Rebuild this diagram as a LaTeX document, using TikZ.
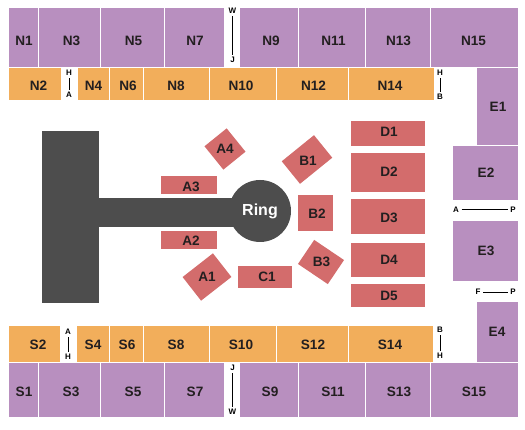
\documentclass[tikz,border=0pt]{standalone}
\usepackage{fontspec}
\setmainfont{Liberation Sans}
\usepackage{xcolor}
\usetikzlibrary{positioning}
\definecolor{upperPurple}{HTML}{B88FBF}
\definecolor{lowerOrange}{HTML}{F2AE5B}
\definecolor{floorRed}{HTML}{D36C6C}
\definecolor{stageGrey}{HTML}{4D4D4D}
\definecolor{labelInk}{HTML}{231F20}

\begin{document}
\begin{tikzpicture}[
  x=1pt, y=-1pt,
  sec/.style={inner sep=0pt, outer sep=0pt},
  upper/.style={sec, fill=upperPurple},
  lower/.style={sec, fill=lowerOrange},
  seat/.style={sec, fill=floorRed},
  stage/.style={sec, fill=stageGrey},
  lbl/.style={inner sep=0pt, text=labelInk, font=\fontsize{13.6}{13.6}\selectfont\bfseries},
  tag/.style={inner sep=2.5pt, text=black, font=\fontsize{8}{8}\selectfont\bfseries},
  aisle/.style={black, line width=0.7pt}
]
\useasboundingbox (0,0) rectangle (525,430);

% north upper row
\node[upper, minimum width=29, minimum height=59] (N1) at (23.5,37.5) {};
\node[upper, minimum width=61, minimum height=59] (N3) at (69.5,37.5) {};
\node[upper, minimum width=63, minimum height=59] (N5) at (132.5,37.5) {};
\node[upper, minimum width=59, minimum height=59] (N7) at (194.5,37.5) {};
\node[upper, minimum width=58, minimum height=59] (N9) at (269,37.5) {};
\node[upper, minimum width=66, minimum height=59] (N11) at (332,37.5) {};
\node[upper, minimum width=64, minimum height=59] (N13) at (398,37.5) {};
\node[upper, minimum width=87, minimum height=59] (N15) at (474.5,37.5) {};
\node[lbl] at (24,41) {N1};
\node[lbl] at (71.5,41) {N3};
\node[lbl] at (133.5,41) {N5};
\node[lbl] at (195,41) {N7};
\node[lbl] at (271,41) {N9};
\node[lbl] at (333.5,41) {N11};
\node[lbl] at (398.5,41) {N13};
\node[lbl] at (473.5,41) {N15};

% north lower row
\node[lower, minimum width=52, minimum height=32] (N2) at (35,84) {};
\node[lower, minimum width=31, minimum height=32] (N4) at (93.5,84) {};
\node[lower, minimum width=33, minimum height=32] (N6) at (126.5,84) {};
\node[lower, minimum width=65, minimum height=32] (N8) at (176.5,84) {};
\node[lower, minimum width=66, minimum height=32] (N10) at (243,84) {};
\node[lower, minimum width=71, minimum height=32] (N12) at (312.5,84) {};
\node[lower, minimum width=85, minimum height=32] (N14) at (391.5,84) {};
\node[lbl] at (38.5,86) {N2};
\node[lbl] at (93.5,86) {N4};
\node[lbl] at (128,86) {N6};
\node[lbl] at (176,86) {N8};
\node[lbl] at (241,86) {N10};
\node[lbl] at (313.5,86) {N12};
\node[lbl] at (390,86) {N14};

% east side
\node[upper, minimum width=41, minimum height=77] (E1) at (497.5,106.5) {};
\node[upper, minimum width=65, minimum height=54] (E2) at (485.5,173) {};
\node[upper, minimum width=65, minimum height=60] (E3) at (485.5,251) {};
\node[upper, minimum width=41, minimum height=60] (E4) at (497.5,332) {};
\node[lbl] at (498,107) {E1};
\node[lbl] at (486,173) {E2};
\node[lbl] at (486,251) {E3};
\node[lbl] at (497,332) {E4};

% south lower row
\node[lower, minimum width=51, minimum height=36] (S2) at (34.5,344) {};
\node[lower, minimum width=32, minimum height=36] (S4) at (93,344) {};
\node[lower, minimum width=33, minimum height=36] (S6) at (126.5,344) {};
\node[lower, minimum width=65, minimum height=36] (S8) at (176.5,344) {};
\node[lower, minimum width=66, minimum height=36] (S10) at (243,344) {};
\node[lower, minimum width=71, minimum height=36] (S12) at (312.5,344) {};
\node[lower, minimum width=84, minimum height=36] (S14) at (391,344) {};
\node[lbl] at (38,345) {S2};
\node[lbl] at (93,345) {S4};
\node[lbl] at (127,345) {S6};
\node[lbl] at (176,345) {S8};
\node[lbl] at (241,345) {S10};
\node[lbl] at (313,345) {S12};
\node[lbl] at (390,345) {S14};

% south upper row
\node[upper, minimum width=29, minimum height=54] (S1) at (23.5,390) {};
\node[upper, minimum width=61, minimum height=54] (S3) at (69.5,390) {};
\node[upper, minimum width=63, minimum height=54] (S5) at (132.5,390) {};
\node[upper, minimum width=59, minimum height=54] (S7) at (194.5,390) {};
\node[upper, minimum width=58, minimum height=54] (S9) at (269,390) {};
\node[upper, minimum width=66, minimum height=54] (S11) at (332,390) {};
\node[upper, minimum width=64, minimum height=54] (S13) at (398,390) {};
\node[upper, minimum width=87, minimum height=54] (S15) at (474.5,390) {};
\node[lbl] at (24,392) {S1};
\node[lbl] at (71,392) {S3};
\node[lbl] at (133,392) {S5};
\node[lbl] at (195,392) {S7};
\node[lbl] at (270,392) {S9};
\node[lbl] at (333,392) {S11};
\node[lbl] at (399,392) {S13};
\node[lbl] at (474,392) {S15};

% stage and ring
\node[stage, minimum width=57, minimum height=172] (stagebox) at (70.5,217) {};
\node[stage, minimum width=140, minimum height=29] (walk) at (168,212.5) {};
\node[stage, circle, minimum size=62, text=white, font=\fontsize{16}{16}\selectfont\bfseries] (ring) at (260,211) {Ring};

% floor seats round the ring
\node[seat, minimum width=56, minimum height=18] (A3) at (189,185) {};
\node[seat, minimum width=56, minimum height=18] (A2) at (189,240) {};
\node[seat, minimum width=54, minimum height=22] (C1) at (265,277) {};
\node[seat, minimum width=35, minimum height=36] (B2) at (315.5,213) {};
\node[seat, minimum width=30, minimum height=28.5, rotate=-51] (A4) at (225,149) {};
\node[seat, minimum width=41.5, minimum height=29, rotate=39] (B1) at (307,159.5) {};
\node[seat, minimum width=38.5, minimum height=30, rotate=38] (A1) at (207,277) {};
\node[seat, minimum width=36, minimum height=29, rotate=-34] (B3) at (321,262) {};
\node[lbl] at (191,187) {A3};
\node[lbl] at (191,241) {A2};
\node[lbl] at (267,277) {C1};
\node[lbl] at (317,214) {B2};
\node[lbl] at (225,149) {A4};
\node[lbl] at (308,161) {B1};
\node[lbl] at (207,277) {A1};
\node[lbl] at (321.5,262) {B3};

% D blocks
\node[seat, minimum width=74, minimum height=25] (D1) at (388,133.5) {};
\node[seat, minimum width=74, minimum height=39] (D2) at (388,172.5) {};
\node[seat, minimum width=74, minimum height=35] (D3) at (388,216.5) {};
\node[seat, minimum width=74, minimum height=34] (D4) at (388,260) {};
\node[seat, minimum width=74, minimum height=23] (D5) at (388,295.5) {};
\node[lbl] at (389,132) {D1};
\node[lbl] at (389,172) {D2};
\node[lbl] at (389,218) {D3};
\node[lbl] at (389,260) {D4};
\node[lbl] at (389,296) {D5};

% aisles
\node[tag] (nw) at (232.5,11) {W};
\node[tag] (nj) at (232.5,60) {J};
\node[tag] (nh) at (69,73) {H};
\node[tag] (na) at (69,95) {A};
\node[tag] (nhb) at (440,73) {H};
\node[tag] (nb) at (440,97) {B};
\node[tag] (sa) at (68,332) {A};
\node[tag] (sh) at (68,357) {H};
\node[tag] (sb) at (440,330) {B};
\node[tag] (shb) at (440,356) {H};
\node[tag] (sj) at (232.5,368) {J};
\node[tag] (sw) at (232.5,412) {W};
\node[tag] (ea) at (456,209.5) {A};
\node[tag] (ep) at (513,209.5) {P};
\node[tag] (ef) at (478,292) {F};
\node[tag] (ep2) at (513,292) {P};
\draw[aisle] (nw) -- (nj);
\draw[aisle] (nh) -- (na);
\draw[aisle] (nhb) -- (nb);
\draw[aisle] (sa) -- (sh);
\draw[aisle] (sb) -- (shb);
\draw[aisle] (sj) -- (sw);
\draw[aisle] (ea) -- (ep);
\draw[aisle] (ef) -- (ep2);
\end{tikzpicture}
\end{document}
